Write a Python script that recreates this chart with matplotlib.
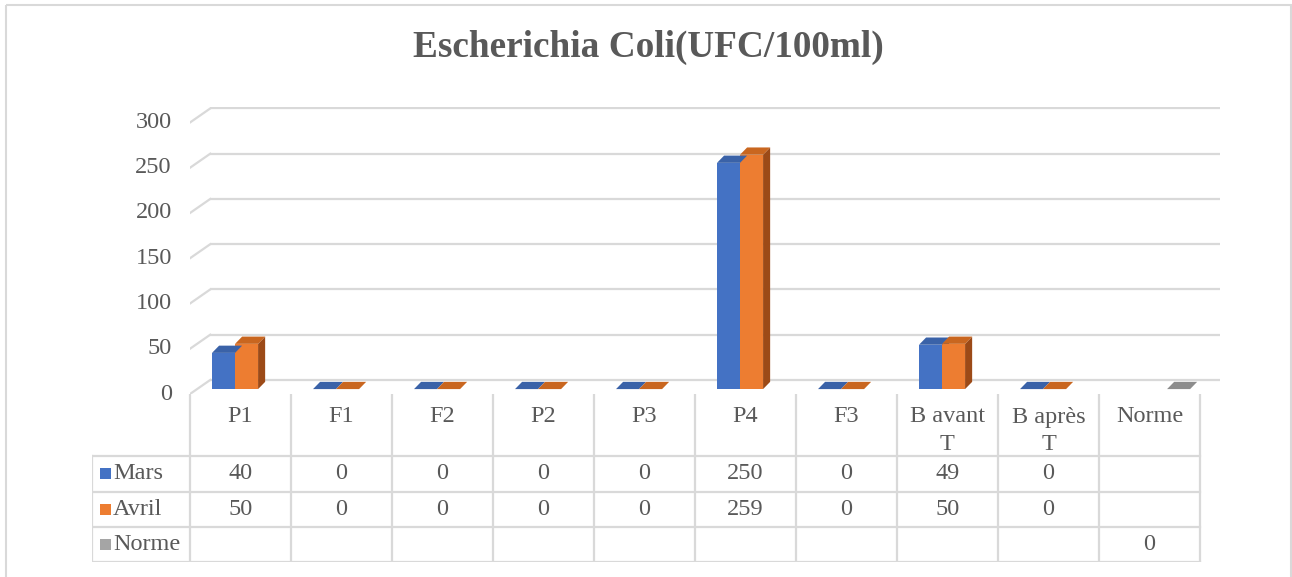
import matplotlib.pyplot as plt
from matplotlib.patches import Polygon, Rectangle
from matplotlib.lines import Line2D

# DATA
categories = ["P1", "F1", "F2", "P2", "P3", "P4", "F3", "B avant\nT", "B après\nT", "Norme"]
mars = [40, 0, 0, 0, 0, 250, 0, 49, 0, None]
avril = [50, 0, 0, 0, 0, 259, 0, 50, 0, None]
norme = [None, None, None, None, None, None, None, None, None, 0]
series_names = ["Mars", "Avril", "Norme"]
series_values = [mars, avril, norme]
yticks = [0, 50, 100, 150, 200, 250, 300]

face = ["#4472C4", "#ED7D31", "#A5A5A5"]
top_c = ["#3A62A8", "#C9661F", "#8C8C8C"]
side_c = ["#2F5597", "#9C4A17", "#737373"]
grid_c = "#D9D9D9"
txt_c = "#595959"
serif = ["Liberation Serif", "DejaVu Serif"]
fs = 17.5

W, H = 1292, 577
fig = plt.figure(figsize=(W / 100, H / 100), dpi=100)

# outer chart frame
frame = fig.add_axes([0, 0, 1, 1])
frame.set_xlim(0, W)
frame.set_ylim(H, 0)
frame.axis("off")
frame.add_patch(Rectangle((6, 5), 1285, 600, fill=False, ec=grid_c, lw=1.5))

fig.text(648 / W, 1 - 57 / H, "Escherichia Coli(UFC/100ml)", ha="center", va="baseline",
         fontsize=26.8, fontweight="bold", color=txt_c, family=serif)

# chart axes: front plane x in category units, y in value units
x_left = -0.5
col_px = 101.0
x_right = x_left + (1220 - 190) / col_px
y_top = (394 - 107) / 0.905
ax = fig.add_axes([190 / W, (H - 394) / H, (1220 - 190) / W, (394 - 107) / H])
ax.set_xlim(x_left, x_right)
ax.set_ylim(0, y_top)
ax.axis("off")

n = len(categories)
ddx = 0.2   # depth offset (x, category units)
ddy = 15.5  # depth offset (y, value units)

# back wall gridlines + diagonal links to the front
for v in yticks:
    ax.add_line(Line2D([x_left + ddx, x_right], [v + ddy, v + ddy], color=grid_c, lw=1.6,
                       solid_capstyle="butt"))
    ax.add_line(Line2D([x_left, x_left + ddx], [v, v + ddy], color=grid_c, lw=1.6))
    ax.text(x_left - 0.18, v, str(v), ha="right", va="center", fontsize=fs,
            color=txt_c, family=serif)

# 3D columns
bw = 0.228
mid = 0.35
bdx = 0.07
bdy = 8
base = mid * ddy
for i in range(n):
    x0 = i - 0.5 * 3 * bw + mid * ddx - 0.01
    for s, vals in enumerate(series_values):
        v = vals[i]
        if v is None:
            continue
        xl = x0 + s * bw
        xr = xl + bw
        top = base + v
        if v > 0:
            ax.add_patch(Rectangle((xl, base), bw, v, fc=face[s], ec="none", zorder=3))
            ax.add_patch(Polygon([(xr, base), (xr + bdx, base + bdy), (xr + bdx, top + bdy), (xr, top)],
                                 closed=True, fc=side_c[s], ec="none", zorder=3))
        ax.add_patch(Polygon([(xl, top), (xr, top), (xr + bdx, top + bdy), (xl + bdx, top + bdy)],
                             closed=True, fc=top_c[s], ec="none", zorder=4))

# data table
tax = fig.add_axes([92 / W, (H - 562) / H, (1220 - 92) / W, (562 - 394) / H])
tax.set_xlim(x_left - 98 / col_px, x_right)
tax.set_ylim(168, 0)
tax.axis("off")
row_edges = [62, 97.5, 133, 168]
lx = x_left - 98 / col_px
tax_kw = dict(color=grid_c, lw=1.6, solid_capstyle="projecting")
for k in range(n + 1):
    tax.add_line(Line2D([x_left + k, x_left + k], [0, 168], **tax_kw))
tax.add_line(Line2D([lx, lx], [row_edges[0], 168], **tax_kw))
for r in row_edges:
    tax.add_line(Line2D([lx, x_left + n], [r, r], **tax_kw))

for i, c in enumerate(categories):
    for k, part in enumerate(c.split("\n")):
        tax.text(i, 23 + 28 * k, part, ha="center", va="center", fontsize=fs, color=txt_c,
                 family=serif)

for s, name in enumerate(series_names):
    yc = (row_edges[s] + row_edges[s + 1]) / 2
    tax.add_patch(Rectangle((lx + 0.08, yc - 5.5), 0.11, 11, fc=face[s], ec="none"))
    tax.text(lx + 0.21, yc, name, ha="left", va="center", fontsize=fs, color=txt_c,
             family=serif)
    for i, v in enumerate(series_values[s]):
        if v is not None:
            tax.text(i, yc, str(v), ha="center", va="center", fontsize=fs, color=txt_c,
                     family=serif)

fig.savefig("out.png", dpi=100)
